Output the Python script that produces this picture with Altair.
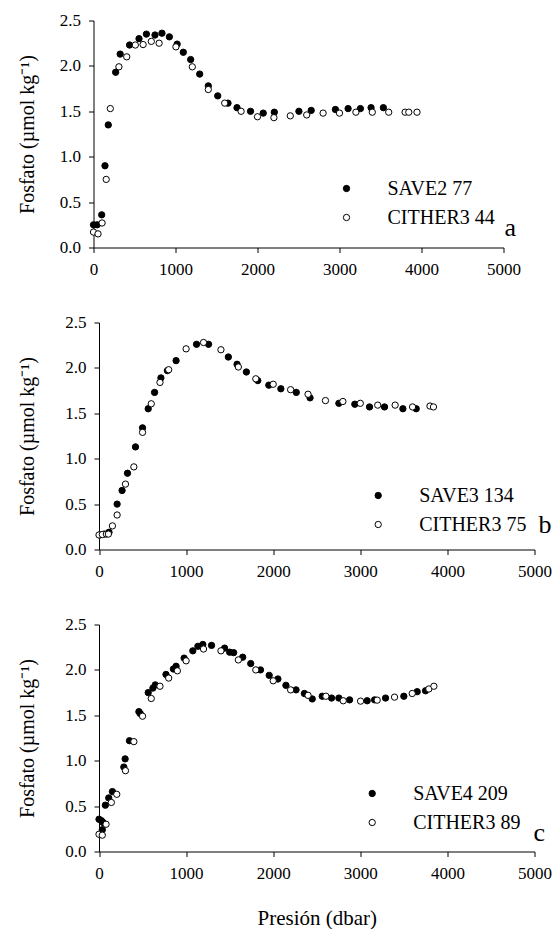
import altair as alt
import pandas as pd

FONT = "Liberation Serif"
YTITLE = "Fosfato (µmol kg⁻¹)"
XTITLE = "Presión (dbar)"
X_TICKS = [0, 1000, 2000, 3000, 4000, 5000]
Y_TICKS = [0.0, 0.5, 1.0, 1.5, 2.0, 2.5]

# ---- Panel a ----
a_save_name = "SAVE2 77"
a_save_p = [0, 45, 100, 140, 180, 270, 325, 440, 555, 645, 750, 835, 925, 1020, 1095, 1185,
            1295, 1400, 1515, 1640, 1750, 1915, 2070, 2205, 2505, 2655, 2950, 3105, 3255, 3385, 3535]
a_save_v = [0.25, 0.25, 0.36, 0.90, 1.35, 1.93, 2.13, 2.23, 2.30, 2.35, 2.34, 2.36, 2.32, 2.24, 2.15, 2.07,
            1.91, 1.78, 1.67, 1.59, 1.54, 1.50, 1.48, 1.49, 1.50, 1.51, 1.52, 1.53, 1.53, 1.54, 1.54]
a_cit_name = "CITHER3 44"
a_cit_p = [0, 55, 105, 155, 205, 310, 405, 510, 605, 705, 800, 1005, 1205, 1400, 1600, 1800, 2000,
           2200, 2400, 2600, 2800, 3000, 3200, 3400, 3600, 3800, 3845, 3945]
a_cit_v = [0.17, 0.15, 0.27, 0.75, 1.53, 1.99, 2.10, 2.23, 2.235, 2.27, 2.25, 2.21, 1.99, 1.74, 1.59, 1.50, 1.44,
           1.43, 1.45, 1.46, 1.48, 1.48, 1.49, 1.49, 1.49, 1.49, 1.49, 1.49]

# ---- Panel b ----
b_save_name = "SAVE3 134"
b_save_p = [10, 60, 115, 208, 265, 327, 419, 500, 565, 638, 711, 785, 885, 1120, 1258, 1485, 1585, 1692,
            1823, 1950, 2088, 2265, 2423, 2754, 2937, 3106, 3278, 3489, 3642]
b_save_v = [0.16, 0.17, 0.19, 0.50, 0.65, 0.84, 1.13, 1.34, 1.55, 1.73, 1.89, 1.97, 2.08, 2.26, 2.26, 2.12, 2.04, 1.955,
            1.86, 1.81, 1.77, 1.73, 1.67, 1.61, 1.60, 1.57, 1.57, 1.55, 1.55]
b_cit_name = "CITHER3 75"
b_cit_p = [0, 38, 85, 108, 154, 208, 304, 400, 500, 600, 700, 800, 1000, 1200, 1400, 1600, 1800, 2000,
           2200, 2400, 2600, 2800, 3000, 3200, 3400, 3600, 3800, 3840]
b_cit_v = [0.16, 0.165, 0.17, 0.17, 0.26, 0.38, 0.72, 0.91, 1.29, 1.605, 1.84, 1.98, 2.21, 2.28, 2.20, 2.01, 1.88, 1.82,
           1.76, 1.71, 1.64, 1.63, 1.61, 1.59, 1.59, 1.57, 1.58, 1.57]

# ---- Panel c ----
c_save_name = "SAVE4 209"
c_save_p = [0, 27, 46, 38, 73, 112, 154, 285, 300, 350, 458, 473, 565, 619, 646, 769, 854, 885, 977, 1077,
            1135, 1192, 1292, 1442, 1500, 1546, 1650, 1742, 1854, 1954, 2054, 2146, 2262, 2358, 2448, 2563,
            2670, 2754, 2877, 3079, 3164, 3290, 3500, 3653, 3749]
c_save_v = [0.355, 0.34, 0.32, 0.24, 0.51, 0.59, 0.66, 0.93, 1.02, 1.22, 1.54, 1.52, 1.75, 1.80, 1.835, 1.95, 2.01, 2.04, 2.13, 2.21,
            2.26, 2.28, 2.27, 2.24, 2.195, 2.19, 2.14, 2.07, 2.00, 1.94, 1.90, 1.83, 1.78, 1.74, 1.68, 1.71,
            1.69, 1.69, 1.67, 1.66, 1.67, 1.69, 1.71, 1.76, 1.77]
c_cit_name = "CITHER3 89"
c_cit_p = [0, 38, 81, 142, 204, 304, 400, 500, 600, 700, 800, 900, 1000, 1200, 1400, 1600, 1800, 2000,
           2200, 2400, 2605, 2804, 3003, 3194, 3393, 3596, 3787, 3845]
c_cit_v = [0.19, 0.18, 0.30, 0.54, 0.63, 0.89, 1.21, 1.49, 1.685, 1.82, 1.91, 1.99, 2.10, 2.23, 2.21, 2.11, 2.00, 1.88,
           1.78, 1.72, 1.71, 1.66, 1.656, 1.667, 1.70, 1.74, 1.79, 1.82]


def panel(sp, sv, sname, cp, cv, cname, letter, width, shift, leg_x, leg_y, let_x, let_y, xtitle):
    df = pd.DataFrame({
        "p": sp + cp,
        "v": sv + cv,
        "s": [sname] * len(sp) + [cname] * len(cp),
    })
    xaxis_kw = dict(values=X_TICKS, format="d", labelFlush=False)
    if xtitle:
        xaxis_kw["title"] = XTITLE
        xaxis_kw["titlePadding"] = 26
        xaxis_kw["titleFontSize"] = 21
    else:
        xaxis_kw["title"] = None
    x = alt.X("p:Q", scale=alt.Scale(domain=[0, 5000], nice=False, zero=False, range=[shift, width]),
              axis=alt.Axis(**xaxis_kw))
    y = alt.Y("v:Q", scale=alt.Scale(domain=[0, 2.5], nice=False),
              axis=alt.Axis(values=Y_TICKS, format=".1f", title=YTITLE,
                            titlePadding=21.5 + shift, offset=-shift))
    pts = alt.Chart(df).mark_point(shape="circle", filled=True, size=40, stroke="black",
                                   strokeWidth=1, opacity=1).encode(
        x=x, y=y,
        fill=alt.Fill("s:N", scale=alt.Scale(domain=[sname, cname], range=["black", "white"]),
                      legend=alt.Legend(title=None, orient="none", legendX=leg_x, legendY=leg_y,
                                        padding=0, labelFont=FONT, labelFontSize=20, labelColor="black",
                                        symbolType="circle", symbolSize=40, symbolStrokeColor="black",
                                        symbolStrokeWidth=1, labelOffset=31, rowPadding=9,
                                        symbolOpacity=1)),
    )
    txt = alt.Chart(pd.DataFrame({"t": [letter]})).mark_text(
        font=FONT, fontSize=26, align="left", baseline="alphabetic", color="black"
    ).encode(text="t:N", x=alt.value(let_x), y=alt.value(let_y))
    return alt.layer(pts, txt).resolve_scale(fill="independent").properties(width=width, height=227)


pa = panel(a_save_p, a_save_v, a_save_name, a_cit_p, a_cit_v, a_cit_name, "a",
           410, 0, 243, 158, 411, 215, False)
pb = panel(b_save_p, b_save_v, b_save_name, b_cit_p, b_cit_v, b_cit_name, "b",
           441, 5.5, 274.7, 163, 445, 210, False)
pc = panel(c_save_p, c_save_v, c_save_name, c_cit_p, c_cit_v, c_cit_name, "c",
           441, 5.5, 268.7, 159, 440, 216, True)

chart = alt.vconcat(pa, pb, pc, spacing=36).resolve_scale(
    fill="independent"
).configure(
    background="white",
    padding={"left": 17.5, "top": 11.5, "right": 0, "bottom": 0},
    font=FONT,
).configure_view(stroke=None).configure_axis(
    grid=False, domainColor="black", domainWidth=1, tickColor="black", tickWidth=1,
    tickSize=5, labelFont=FONT, labelFontSize=17, labelColor="black", labelPadding=8,
    titleFont=FONT, titleFontSize=20, titleColor="black", titleFontWeight="normal",
).configure_axisX(labelPadding=9)

chart.save("out.html", embed_options={"renderer": "svg", "actions": False})
